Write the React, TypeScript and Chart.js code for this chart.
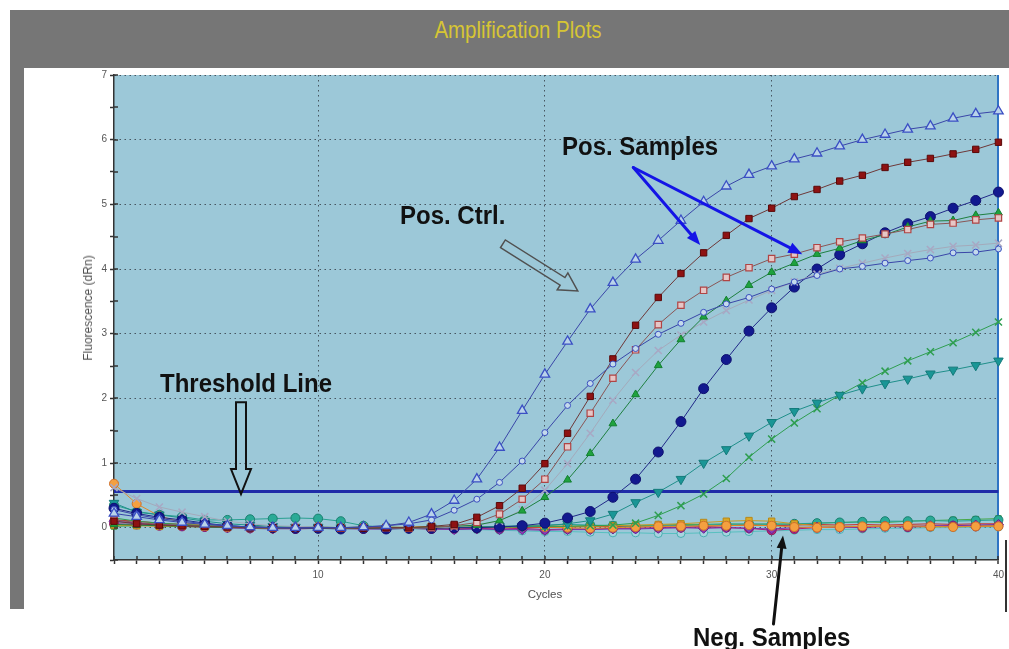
import { useEffect, useRef } from 'react';
import { Chart, registerables } from 'chart.js';

Chart.register(...registerables);

// ---------------- data ----------------
const CYCLES = [
  1, 2, 3, 4, 5, 6, 7, 8, 9, 10,
  11, 12, 13, 14, 15, 16, 17, 18, 19, 20,
  21, 22, 23, 24, 25, 26, 27, 28, 29, 30,
  31, 32, 33, 34, 35, 36, 37, 38, 39, 40,
];
const X_TICK_LABELS = ['10', '20', '30', '40'];
const Y_TICK_LABELS = ['0', '1', '2', '3', '4', '5', '6', '7'];
const THRESHOLD = 0.56;

const POS_CTRL = [
  0.22, 0.17, 0.12, 0.08, 0.05, 0.03, 0.01, 0.0, 0.0, 0.0,
  0.0, 0.01, 0.03, 0.08, 0.21, 0.42, 0.75, 1.24, 1.81, 2.37,
  2.88, 3.38, 3.79, 4.15, 4.44, 4.75, 5.04, 5.28, 5.46, 5.59,
  5.7, 5.79, 5.9, 6.0, 6.08, 6.16, 6.21, 6.33, 6.4, 6.44,
];
const SAMPLE_A = [
  0.28, 0.2, 0.14, 0.1, 0.06, 0.03, 0.01, 0.0, -0.01, 0.0,
  0.0, 0.01, 0.03, 0.06, 0.12, 0.27, 0.44, 0.7, 1.03, 1.47,
  1.89, 2.23, 2.53, 2.77, 2.99, 3.16, 3.33, 3.46, 3.56, 3.69,
  3.8, 3.9, 4.0, 4.04, 4.09, 4.13, 4.17, 4.25, 4.26, 4.31,
];
const SAMPLE_B = [
  0.1, 0.06, 0.04, 0.03, 0.02, 0.01, 0.0, 0.0, -0.01, 0.0,
  0.0, -0.01, 0.0, 0.0, 0.02, 0.05, 0.16, 0.34, 0.61, 0.99,
  1.46, 2.03, 2.61, 3.13, 3.56, 3.93, 4.25, 4.52, 4.78, 4.94,
  5.12, 5.23, 5.36, 5.45, 5.57, 5.65, 5.71, 5.78, 5.85, 5.96,
];
const SAMPLE_C = [
  0.12, 0.08, 0.05, 0.03, 0.02, 0.01, 0.0, -0.01, 0.0, 0.0,
  -0.01, 0.0, 0.0, -0.01, 0.0, 0.03, 0.08, 0.21, 0.44, 0.75,
  1.25, 1.77, 2.31, 2.75, 3.14, 3.44, 3.67, 3.87, 4.02, 4.16,
  4.23, 4.33, 4.42, 4.48, 4.54, 4.61, 4.69, 4.71, 4.76, 4.79,
];
const SAMPLE_D = [
  0.05, 0.04, 0.03, 0.02, 0.01, 0.0, 0.0, -0.01, 0.0, 0.0,
  0.0, -0.01, 0.0, 0.0, 0.01, 0.02, 0.04, 0.11, 0.26, 0.47,
  0.74, 1.15, 1.61, 2.06, 2.51, 2.91, 3.26, 3.51, 3.75, 3.95,
  4.09, 4.23, 4.32, 4.44, 4.53, 4.65, 4.74, 4.75, 4.83, 4.87,
];
const SAMPLE_E = [
  0.62, 0.45, 0.32, 0.24, 0.17, 0.1, 0.06, 0.03, 0.02, 0.01,
  0.0, 0.0, 0.0, -0.01, 0.0, 0.01, 0.04, 0.1, 0.28, 0.58,
  0.99, 1.46, 1.97, 2.4, 2.74, 2.98, 3.18, 3.36, 3.52, 3.67,
  3.8, 3.92, 4.01, 4.09, 4.17, 4.24, 4.3, 4.35, 4.37, 4.4,
];
const SAMPLE_F = [
  0.3, 0.22, 0.16, 0.12, 0.07, 0.03, 0.01, 0.0, -0.01, -0.01,
  -0.02, -0.01, -0.02, -0.01, -0.01, 0.0, 0.0, 0.01, 0.03, 0.07,
  0.15, 0.25, 0.47, 0.75, 1.17, 1.64, 2.15, 2.6, 3.04, 3.4,
  3.72, 4.0, 4.22, 4.39, 4.56, 4.7, 4.81, 4.94, 5.06, 5.19,
];
const SAMPLE_G = [
  0.38, 0.24, 0.2, 0.15, 0.1, 0.06, 0.04, 0.02, 0.01, 0.01,
  0.0, 0.0, -0.01, 0.0, 0.0, 0.01, 0.01, 0.02, 0.02, 0.03,
  0.06, 0.11, 0.21, 0.39, 0.55, 0.75, 1.0, 1.21, 1.42, 1.63,
  1.8, 1.93, 2.05, 2.15, 2.23, 2.3, 2.38, 2.44, 2.51, 2.58,
];
const SAMPLE_H = [
  0.15, 0.1, 0.07, 0.05, 0.03, 0.02, 0.01, 0.0, 0.0, 0.0,
  -0.01, 0.0, 0.0, 0.0, 0.01, 0.0, 0.01, 0.01, 0.02, 0.02,
  0.02, 0.03, 0.04, 0.07, 0.19, 0.34, 0.52, 0.76, 1.09, 1.37,
  1.62, 1.84, 2.05, 2.24, 2.42, 2.58, 2.72, 2.86, 3.02, 3.18,
];
const NEG_1 = [
  0.68, 0.37, 0.18, 0.08, 0.03, 0.01, 0.0, -0.01, 0.0, 0.01,
  0.0, -0.01, 0.0, 0.01, 0.02, 0.01, 0.0, 0.01, 0.02, 0.01,
  0.0, -0.01, 0.0, 0.01, 0.02, 0.02, 0.03, 0.03, 0.04, 0.03,
  0.01, 0.0, 0.01, 0.02, 0.02, 0.03, 0.02, 0.01, 0.02, 0.02,
];
const NEG_2 = [
  0.1, 0.07, 0.05, 0.03, 0.02, 0.0, -0.01, -0.02, -0.01, 0.0,
  -0.01, -0.02, -0.02, -0.01, -0.02, -0.03, -0.02, -0.03, -0.03, -0.04,
  -0.03, -0.03, -0.02, -0.02, -0.01, 0.0, -0.01, 0.0, -0.01, -0.02,
  0.0, 0.01, 0.0, 0.01, 0.02, 0.02, 0.03, 0.03, 0.04, 0.05,
];
const NEG_3 = [
  0.04, 0.03, 0.02, 0.02, 0.01, 0.01, 0.0, 0.0, 0.01, 0.0,
  0.0, 0.01, 0.01, 0.0, 0.01, 0.02, 0.02, 0.01, 0.02, 0.03,
  0.02, 0.02, 0.03, 0.04, 0.05, 0.06, 0.08, 0.1, 0.11, 0.1,
  0.06, 0.03, 0.02, 0.02, 0.03, 0.02, 0.01, 0.02, 0.03, 0.03,
];
const NEG_4 = [
  0.06, 0.05, 0.03, 0.02, 0.01, 0.0, -0.01, -0.01, -0.02, -0.01,
  -0.01, -0.02, -0.01, -0.01, -0.02, -0.02, -0.01, -0.02, -0.01, -0.03,
  -0.02, -0.02, -0.01, -0.01, 0.0, 0.0, 0.01, 0.0, -0.01, -0.04,
  -0.02, 0.0, 0.01, 0.0, 0.02, 0.01, 0.02, 0.03, 0.02, 0.03,
];
const NEG_5 = [
  0.35, 0.25, 0.2, 0.17, 0.12, 0.12, 0.13, 0.14, 0.15, 0.14,
  0.1, 0.03, 0.01, 0.0, 0.0, 0.01, 0.0, 0.02, 0.03, 0.04,
  0.05, 0.04, 0.03, 0.02, 0.03, 0.03, 0.04, 0.05, 0.06, 0.05,
  0.06, 0.07, 0.08, 0.09, 0.1, 0.1, 0.11, 0.1, 0.11, 0.12,
];
const NEG_6 = [
  0.12, 0.1, 0.07, 0.05, 0.03, 0.02, 0.01, 0.0, 0.0, -0.01,
  0.0, 0.0, -0.01, 0.0, 0.01, 0.0, 0.01, 0.02, 0.01, 0.0,
  0.01, 0.02, 0.02, 0.01, 0.02, 0.03, 0.02, 0.03, 0.04, 0.03,
  0.04, 0.05, 0.04, 0.05, 0.04, 0.05, 0.06, 0.05, 0.06, 0.06,
];
const NEG_7 = [
  0.02, 0.03, 0.04, 0.03, 0.02, 0.02, 0.01, 0.0, 0.01, 0.0,
  -0.01, 0.0, 0.0, -0.01, 0.0, -0.01, 0.0, 0.01, 0.0, 0.01,
  0.02, 0.03, 0.02, 0.03, 0.04, 0.05, 0.05, 0.06, 0.05, 0.06,
  0.05, 0.07, 0.08, 0.09, 0.08, 0.1, 0.11, 0.12, 0.13, 0.14,
];
const NEG_8 = [
  0.08, 0.06, 0.04, 0.03, 0.02, 0.01, 0.0, 0.0, -0.01, 0.0,
  0.0, -0.01, -0.01, -0.02, -0.02, -0.03, -0.03, -0.04, -0.05, -0.06,
  -0.06, -0.07, -0.08, -0.08, -0.09, -0.09, -0.08, -0.07, -0.06, -0.05,
  -0.04, -0.03, -0.03, -0.02, -0.01, -0.01, 0.0, 0.0, 0.01, 0.01,
];

// ---------------- styles ----------------
const PLOT_BG = '#9CC8D8';
const FONT = '"Liberation Sans", Arial, Helvetica, sans-serif';

type Style = {
  line: string;
  style: string;
  radius: number;
  fill: string;
  border: string;
  bw?: number;
  rot?: number;
};

const SERIES: { label: string; values: number[]; s: Style }[] = [
  { label: 'Pos. Ctrl.', values: POS_CTRL, s: { line: '#3A46A8', style: 'triangle', radius: 5.5, fill: '#B9D3EA', border: '#3A4FC4', bw: 1.3 } },
  { label: 'Sample A', values: SAMPLE_A, s: { line: '#3A46A8', style: 'circle', radius: 3, fill: '#C4DAEC', border: '#3A4FC0', bw: 1 } },
  { label: 'Sample B', values: SAMPLE_B, s: { line: '#6E3838', style: 'rect', radius: 4.5, fill: '#8E1212', border: '#5A0808', bw: 1 } },
  { label: 'Sample C', values: SAMPLE_C, s: { line: '#8A5656', style: 'rect', radius: 4.5, fill: '#E6C6C6', border: '#B04444', bw: 1.2 } },
  { label: 'Sample D', values: SAMPLE_D, s: { line: '#1E8040', style: 'triangle', radius: 4.5, fill: '#1FA23E', border: '#138030', bw: 1 } },
  { label: 'Sample E', values: SAMPLE_E, s: { line: '#A4AABB', style: 'crossRot', radius: 5, fill: '#A8A8C4', border: '#A8A8C4', bw: 1.5 } },
  { label: 'Sample F', values: SAMPLE_F, s: { line: '#202888', style: 'circle', radius: 5, fill: '#12198F', border: '#0E1070', bw: 1 } },
  { label: 'Sample G', values: SAMPLE_G, s: { line: '#1F8F8A', style: 'triangle', radius: 5.5, fill: '#1A9696', border: '#147A7A', bw: 1, rot: 180 } },
  { label: 'Sample H', values: SAMPLE_H, s: { line: '#2E9E50', style: 'crossRot', radius: 5, fill: '#2E9E50', border: '#2E9E50', bw: 1.5 } },
  { label: 'Neg 1', values: NEG_1, s: { line: '#E08A2A', style: 'circle', radius: 4.5, fill: '#F4A040', border: '#D0702A', bw: 1 } },
  { label: 'Neg 2', values: NEG_2, s: { line: '#7A30A8', style: 'rectRot', radius: 5, fill: '#8A3CB8', border: '#6A2090', bw: 1 } },
  { label: 'Neg 3', values: NEG_3, s: { line: '#C89A20', style: 'rect', radius: 4.5, fill: '#D8AA28', border: '#B88818', bw: 1 } },
  { label: 'Neg 4', values: NEG_4, s: { line: '#B02070', style: 'circle', radius: 4.5, fill: '#C02878', border: '#901860', bw: 1 } },
  { label: 'Neg 5', values: NEG_5, s: { line: '#28A090', style: 'circle', radius: 4.5, fill: '#2AAA96', border: '#1A8070', bw: 1 } },
  { label: 'Neg 6', values: NEG_6, s: { line: '#C83030', style: 'circle', radius: 4, fill: '#D84A2A', border: '#A02020', bw: 1 } },
  { label: 'Neg 7', values: NEG_7, s: { line: '#48A848', style: 'rect', radius: 4, fill: '#58B058', border: '#308830', bw: 1 } },
  { label: 'Neg 8', values: NEG_8, s: { line: '#58C0C0', style: 'circle', radius: 4, fill: '#A8D4E0', border: '#48B0B0', bw: 1 } },
];

// annotation arrows in data units (cycle, fluorescence)
const BLUE_ARROW_FROM = { x: 23.9, y: 5.57 };
const BLUE_ARROW_TIPS = [{ x: 26.85, y: 4.37 }, { x: 31.35, y: 4.23 }];
const CTRL_ARROW = { from: { x: 18.15, y: 4.39 }, to: { x: 21.45, y: 3.66 } };
const THRESH_ARROW = { from: { x: 6.6, y: 1.94 }, to: { x: 6.6, y: 0.52 } };
const NEG_ARROW = { from: { x: 30.08, y: -1.49 }, to: { x: 30.5, y: -0.12 } };

function solidArrow(ctx: CanvasRenderingContext2D, x1: number, y1: number, x2: number, y2: number, color: string, width: number, headLen: number, headHalf: number) {
  const dx = x2 - x1, dy = y2 - y1;
  const L = Math.hypot(dx, dy);
  const ux = dx / L, uy = dy / L;
  const nx = -uy, ny = ux;
  const bx = x2 - ux * headLen, by = y2 - uy * headLen;
  ctx.save();
  ctx.strokeStyle = color;
  ctx.lineWidth = width;
  ctx.lineCap = 'round';
  ctx.beginPath();
  ctx.moveTo(x1, y1);
  ctx.lineTo(bx + ux * 2, by + uy * 2);
  ctx.stroke();
  ctx.fillStyle = color;
  ctx.beginPath();
  ctx.moveTo(x2, y2);
  ctx.lineTo(bx + nx * headHalf, by + ny * headHalf);
  ctx.lineTo(bx - nx * headHalf, by - ny * headHalf);
  ctx.closePath();
  ctx.fill();
  ctx.restore();
}

function hollowArrow(ctx: CanvasRenderingContext2D, x1: number, y1: number, x2: number, y2: number, shaftHalf: number, headHalf: number, headLen: number, color: string, lw: number) {
  const dx = x2 - x1, dy = y2 - y1;
  const L = Math.hypot(dx, dy);
  const ux = dx / L, uy = dy / L;
  const nx = -uy, ny = ux;
  const bx = x2 - ux * headLen, by = y2 - uy * headLen;
  ctx.save();
  ctx.strokeStyle = color;
  ctx.lineWidth = lw;
  ctx.lineJoin = 'miter';
  ctx.beginPath();
  ctx.moveTo(x1 + nx * shaftHalf, y1 + ny * shaftHalf);
  ctx.lineTo(bx + nx * shaftHalf, by + ny * shaftHalf);
  ctx.lineTo(bx + nx * headHalf, by + ny * headHalf);
  ctx.lineTo(x2, y2);
  ctx.lineTo(bx - nx * headHalf, by - ny * headHalf);
  ctx.lineTo(bx - nx * shaftHalf, by - ny * shaftHalf);
  ctx.lineTo(x1 - nx * shaftHalf, y1 - ny * shaftHalf);
  ctx.closePath();
  ctx.stroke();
  ctx.restore();
}

const bgPlugin = {
  id: 'plotBg',
  beforeDraw(chart: any) {
    const { ctx, chartArea: a } = chart;
    ctx.save();
    ctx.fillStyle = PLOT_BG;
    ctx.fillRect(a.left, a.top, a.right - a.left, a.bottom - a.top);
    ctx.restore();
  },
};

const decoPlugin = {
  id: 'deco',
  afterDraw(chart: any) {
    const { ctx, chartArea: a, scales } = chart;
    const xs = scales.x, ys = scales.y;
    // inner halves of the crossing tick marks
    ctx.save();
    ctx.strokeStyle = '#333';
    ctx.lineWidth = 1.5;
    ctx.beginPath();
    xs.ticks.forEach((t: any) => {
      const px = Math.round(xs.getPixelForValue(t.value));
      ctx.moveTo(px, a.bottom);
      ctx.lineTo(px, a.bottom - 4);
    });
    ys.ticks.forEach((t: any) => {
      const py = Math.round(ys.getPixelForValue(t.value));
      ctx.moveTo(a.left, py);
      ctx.lineTo(a.left + 4, py);
    });
    ctx.stroke();
    ctx.restore();

    const P = (p: { x: number; y: number }) => [xs.getPixelForValue(p.x), ys.getPixelForValue(p.y)];
    const [fx, fy] = P(BLUE_ARROW_FROM);
    BLUE_ARROW_TIPS.forEach((t) => {
      const [tx, ty] = P(t);
      solidArrow(ctx, fx, fy, tx, ty, '#1414E6', 3, 14, 5.5);
    });
    {
      const [ax, ay] = P(CTRL_ARROW.from);
      const [bx, by] = P(CTRL_ARROW.to);
      hollowArrow(ctx, ax, ay, bx, by, 4.5, 10, 18, '#505050', 1.5);
    }
    {
      const [ax, ay] = P(THRESH_ARROW.from);
      const [bx, by] = P(THRESH_ARROW.to);
      hollowArrow(ctx, ax, ay, bx, by, 5, 10, 25, '#111', 2);
    }
    {
      const [ax, ay] = P(NEG_ARROW.from);
      const [bx, by] = P(NEG_ARROW.to);
      solidArrow(ctx, ax, ay, bx, by, '#111', 3, 13, 5);
    }
  },
};

const isInt = (v: number) => Math.abs(v - Math.round(v)) < 1e-9;

export default function App() {
  const ref = useRef<HTMLCanvasElement | null>(null);

  useEffect(() => {
    if (!ref.current) return;
    Chart.defaults.font.family = FONT;
    const datasets: any[] = SERIES.map(({ label, values, s }) => ({
      label,
      data: CYCLES.map((c, i) => ({ x: c, y: values[i] })),
      borderColor: s.line,
      borderWidth: 1,
      pointStyle: s.style,
      pointRadius: s.radius,
      pointBackgroundColor: s.fill,
      pointBorderColor: s.border,
      pointBorderWidth: s.bw ?? 1,
      pointRotation: s.rot ?? 0,
      tension: 0,
      clip: false,
    }));
    datasets.push({
      label: 'Threshold',
      data: [
        { x: CYCLES[0], y: THRESHOLD },
        { x: CYCLES[CYCLES.length - 1], y: THRESHOLD },
      ],
      borderColor: '#1F2CA8',
      borderWidth: 3,
      pointRadius: 0,
      clip: false,
    });

    const chart = new Chart(ref.current, {
      type: 'line',
      data: { datasets },
      plugins: [bgPlugin, decoPlugin],
      options: {
        animation: false,
        responsive: false,
        events: [],
        layout: { padding: { left: 0, top: 75, right: 10, bottom: 0 } },
        plugins: { legend: { display: false }, title: { display: false }, tooltip: { enabled: false } },
        scales: {
          x: {
            type: 'linear',
            min: 1,
            max: 40,
            afterFit: (sc: any) => { sc.height = 89; },
            ticks: {
              stepSize: 1,
              autoSkip: false,
              maxRotation: 0,
              padding: 5,
              color: '#555',
              font: { size: 10 },
              callback: (v: any) => (X_TICK_LABELS.includes(String(v)) ? String(v) : ''),
            },
            grid: {
              drawOnChartArea: true,
              tickLength: 4,
              tickColor: '#333',
              tickWidth: 1.5,
              color: (c: any) => {
                const v = c.tick?.value;
                if (v === 40) return '#2F74C4';
                if (v === 10 || v === 20 || v === 30) return 'rgba(55,65,75,0.85)';
                return 'rgba(0,0,0,0)';
              },
              lineWidth: (c: any) => (c.tick?.value === 40 ? 2 : 1),
            },
            border: {
              display: true,
              color: '#333',
              width: 1.5,
              dash: (c: any) => (c.tick?.value === 40 ? [] : [1.5, 3.5]),
            },
          },
          y: {
            type: 'linear',
            min: -0.5,
            max: 7,
            afterFit: (sc: any) => { sc.width = 114; },
            ticks: {
              stepSize: 0.5,
              autoSkip: false,
              padding: 3,
              color: '#555',
              font: { size: 10 },
              callback: (v: any) => (isInt(v) && Y_TICK_LABELS.includes(String(v)) ? String(v) : ''),
            },
            grid: {
              tickLength: 4,
              tickColor: '#333',
              tickWidth: 1.5,
              color: (c: any) => {
                const v = c.tick?.value;
                if (v !== undefined && isInt(v) && v >= 0) return 'rgba(55,65,75,0.85)';
                return 'rgba(0,0,0,0)';
              },
              lineWidth: 1,
            },
            border: {
              display: true,
              color: '#333',
              width: 1.5,
              dash: [1.5, 3.5],
            },
          },
        },
      } as any,
    });
    return () => chart.destroy();
  }, []);

  const note: React.CSSProperties = {
    position: 'absolute',
    fontFamily: FONT,
    fontWeight: 'bold',
    fontSize: 24,
    lineHeight: '24px',
    color: '#111',
    whiteSpace: 'nowrap',
    transform: 'scaleY(1.08)',
    transformOrigin: 'left center',
  };

  return (
    <div style={{ position: 'absolute', left: 0, top: 0, width: 1009, height: 649, background: '#fff', overflow: 'hidden' }}>
      <div style={{ position: 'absolute', left: 10, top: 10, width: 999, height: 58, background: '#767676' }} />
      <div style={{ position: 'absolute', left: 10, top: 68, width: 14, height: 541, background: '#767676' }} />
      <div style={{ position: 'absolute', left: 1005, top: 540, width: 2, height: 72, background: '#333' }} />
      <div
        style={{
          position: 'absolute', left: 318, top: 19, width: 400, textAlign: 'center',
          fontFamily: FONT, fontSize: 22, lineHeight: '22px', color: '#D6C534',
          transform: 'scale(0.93, 1.08)',
        }}
      >
        Amplification Plots
      </div>
      <canvas ref={ref} width={1009} height={649} style={{ position: 'absolute', left: 0, top: 0, width: 1009, height: 649 }} />
      <div
        style={{
          position: 'absolute', left: 87.5, top: 307.5, transform: 'translate(-50%, -50%) rotate(-90deg)',
          fontFamily: FONT, fontSize: 12, color: '#505050', whiteSpace: 'nowrap',
        }}
      >
        Fluorescence (dRn)
      </div>
      <div
        style={{
          position: 'absolute', left: 545, top: 594, transform: 'translate(-50%, -50%)',
          fontFamily: FONT, fontSize: 11.5, color: '#505050', whiteSpace: 'nowrap',
        }}
      >
        Cycles
      </div>
      <div style={{ ...note, left: 562, top: 134 }}>Pos. Samples</div>
      <div style={{ ...note, left: 400, top: 203 }}>Pos. Ctrl.</div>
      <div style={{ ...note, left: 160, top: 371 }}>Threshold Line</div>
      <div style={{ ...note, left: 693, top: 625 }}>Neg. Samples</div>
    </div>
  );
}
